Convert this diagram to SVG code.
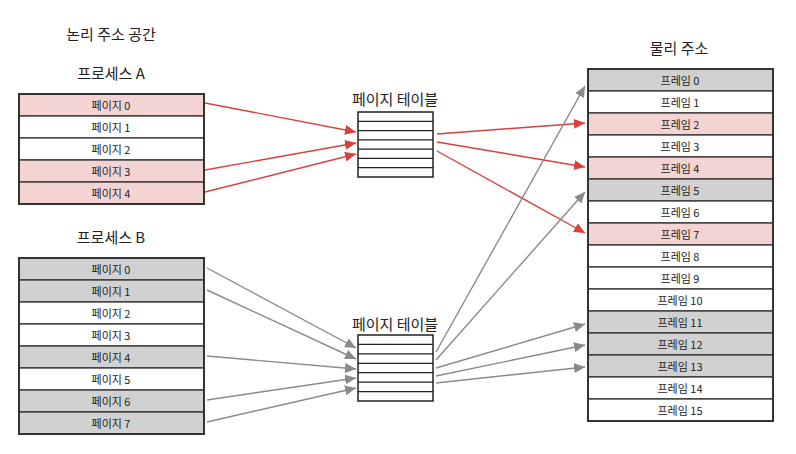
<svg xmlns="http://www.w3.org/2000/svg" width="796" height="454" viewBox="0 0 796 454">
<style>
text{font-family:"Noto Sans CJK KR","Noto Sans",sans-serif;fill:#222;text-anchor:middle;dominant-baseline:central}
.t{font-size:15px}
.c{font-size:11px}
.row{stroke:#333;stroke-width:1.3}
.pk{fill:#f4d4d3}
.gy{fill:#d0d1d0}
.wh{fill:#fff}
.frame{fill:none;stroke:#333;stroke-width:2}
.tl{stroke:#222;stroke-width:1.2}
.red{stroke:#d8403a;stroke-width:1.4;fill:none}
.gr{stroke:#8a8a8a;stroke-width:1.4;fill:none}
</style>
<defs>
<marker id="ar" markerUnits="userSpaceOnUse" markerWidth="12" markerHeight="10" refX="11" refY="5" orient="auto"><path d="M0,0 L11,5 L0,10 Z" fill="#d8403a"/></marker>
<marker id="ag" markerUnits="userSpaceOnUse" markerWidth="12" markerHeight="10" refX="11" refY="5" orient="auto"><path d="M0,0 L11,5 L0,10 Z" fill="#8a8a8a"/></marker>
</defs>
<rect width="796" height="454" fill="#fff"/>
<text class="t" x="111" y="33">논리 주소 공간</text>
<text class="t" x="111" y="72">프로세스 A</text>
<text class="t" x="111" y="236">프로세스 B</text>
<text class="t" x="679" y="47">물리 주소</text>
<text class="t" x="395" y="98">페이지 테이블</text>
<text class="t" x="395" y="323">페이지 테이블</text>

<g id="processA">
<rect class="row pk" x="19" y="94" width="185" height="22"/><text class="c" x="111" y="105">페이지 0</text>
<rect class="row wh" x="19" y="116" width="185" height="22"/><text class="c" x="111" y="127">페이지 1</text>
<rect class="row wh" x="19" y="138" width="185" height="22"/><text class="c" x="111" y="149">페이지 2</text>
<rect class="row pk" x="19" y="160" width="185" height="22"/><text class="c" x="111" y="171">페이지 3</text>
<rect class="row pk" x="19" y="182" width="185" height="22"/><text class="c" x="111" y="193">페이지 4</text>
<rect class="frame" x="19" y="94" width="185" height="110"/>
</g>

<g id="processB">
<rect class="row gy" x="19" y="258" width="185" height="22"/><text class="c" x="111" y="269">페이지 0</text>
<rect class="row gy" x="19" y="280" width="185" height="22"/><text class="c" x="111" y="291">페이지 1</text>
<rect class="row wh" x="19" y="302" width="185" height="22"/><text class="c" x="111" y="313">페이지 2</text>
<rect class="row wh" x="19" y="324" width="185" height="22"/><text class="c" x="111" y="335">페이지 3</text>
<rect class="row gy" x="19" y="346" width="185" height="22"/><text class="c" x="111" y="357">페이지 4</text>
<rect class="row wh" x="19" y="368" width="185" height="22"/><text class="c" x="111" y="379">페이지 5</text>
<rect class="row gy" x="19" y="390" width="185" height="22"/><text class="c" x="111" y="401">페이지 6</text>
<rect class="row gy" x="19" y="412" width="185" height="22"/><text class="c" x="111" y="423">페이지 7</text>
<rect class="frame" x="19" y="258" width="185" height="176"/>
</g>

<g id="pageTableA">
<rect x="358" y="112" width="75" height="65" fill="#fff" stroke="#222" stroke-width="1.5"/>
<path class="tl" d="M358,121.3H433M358,130.6H433M358,139.9H433M358,149.1H433M358,158.4H433M358,167.7H433"/>
</g>

<g id="pageTableB">
<rect x="358" y="335" width="75" height="66" fill="#fff" stroke="#222" stroke-width="1.5"/>
<path class="tl" d="M358,344.4H433M358,353.9H433M358,363.3H433M358,372.7H433M358,382.1H433M358,391.6H433"/>
</g>

<g id="physical">
<rect class="row gy" x="588" y="69" width="185" height="22"/><text class="c" x="680" y="80">프레임 0</text>
<rect class="row wh" x="588" y="91" width="185" height="22"/><text class="c" x="680" y="102">프레임 1</text>
<rect class="row pk" x="588" y="113" width="185" height="22"/><text class="c" x="680" y="124">프레임 2</text>
<rect class="row wh" x="588" y="135" width="185" height="22"/><text class="c" x="680" y="146">프레임 3</text>
<rect class="row pk" x="588" y="157" width="185" height="22"/><text class="c" x="680" y="168">프레임 4</text>
<rect class="row gy" x="588" y="179" width="185" height="22"/><text class="c" x="680" y="190">프레임 5</text>
<rect class="row wh" x="588" y="201" width="185" height="22"/><text class="c" x="680" y="212">프레임 6</text>
<rect class="row pk" x="588" y="223" width="185" height="22"/><text class="c" x="680" y="234">프레임 7</text>
<rect class="row wh" x="588" y="245" width="185" height="22"/><text class="c" x="680" y="256">프레임 8</text>
<rect class="row wh" x="588" y="267" width="185" height="22"/><text class="c" x="680" y="278">프레임 9</text>
<rect class="row wh" x="588" y="289" width="185" height="22"/><text class="c" x="680" y="300">프레임 10</text>
<rect class="row gy" x="588" y="311" width="185" height="22"/><text class="c" x="680" y="322">프레임 11</text>
<rect class="row gy" x="588" y="333" width="185" height="22"/><text class="c" x="680" y="344">프레임 12</text>
<rect class="row gy" x="588" y="355" width="185" height="22"/><text class="c" x="680" y="366">프레임 13</text>
<rect class="row wh" x="588" y="377" width="185" height="22"/><text class="c" x="680" y="388">프레임 14</text>
<rect class="row wh" x="588" y="399" width="185" height="22"/><text class="c" x="680" y="410">프레임 15</text>
<rect class="frame" x="588" y="69" width="185" height="352"/>
</g>

<g id="connectors">
<line class="red" marker-end="url(#ar)" x1="205" y1="103" x2="356" y2="132"/>
<line class="red" marker-end="url(#ar)" x1="205" y1="170" x2="356" y2="143"/>
<line class="red" marker-end="url(#ar)" x1="205" y1="192" x2="356" y2="154"/>
<line class="red" marker-end="url(#ar)" x1="437" y1="134" x2="585" y2="123"/>
<line class="red" marker-end="url(#ar)" x1="437" y1="142" x2="585" y2="167"/>
<line class="red" marker-end="url(#ar)" x1="437" y1="151" x2="585" y2="233"/>
<line class="gr" marker-end="url(#ag)" x1="207" y1="268" x2="356" y2="348"/>
<line class="gr" marker-end="url(#ag)" x1="207" y1="290" x2="356" y2="359"/>
<line class="gr" marker-end="url(#ag)" x1="207" y1="356" x2="356" y2="369"/>
<line class="gr" marker-end="url(#ag)" x1="207" y1="400" x2="356" y2="378"/>
<line class="gr" marker-end="url(#ag)" x1="207" y1="422" x2="356" y2="388"/>
<line class="gr" marker-end="url(#ag)" x1="436" y1="352" x2="585" y2="86"/>
<line class="gr" marker-end="url(#ag)" x1="436" y1="360" x2="585" y2="192"/>
<line class="gr" marker-end="url(#ag)" x1="436" y1="368" x2="585" y2="324"/>
<line class="gr" marker-end="url(#ag)" x1="436" y1="376" x2="585" y2="345"/>
<line class="gr" marker-end="url(#ag)" x1="436" y1="383" x2="585" y2="367"/>
</g>
</svg>
